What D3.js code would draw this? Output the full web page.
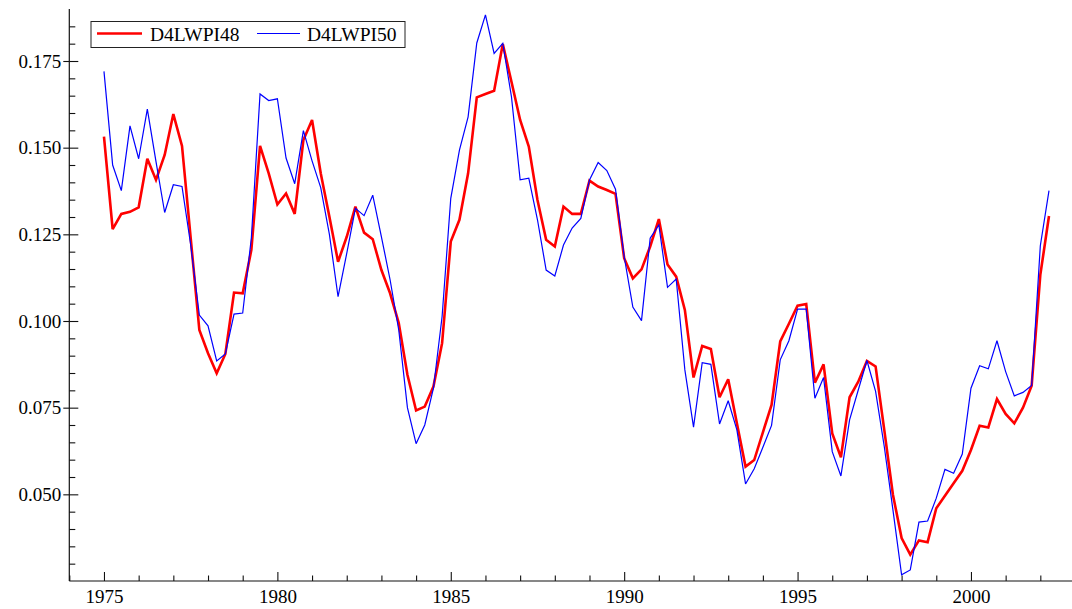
<!DOCTYPE html>
<html><head><meta charset="utf-8">
<script src="https://cdn.jsdelivr.net/npm/d3@7"></script>
<style>
body{margin:0;background:#fff}
svg{display:block}
</style>
</head><body>
<svg id="chart" width="1072" height="609"></svg>
<script>
// ---- data (quarterly, starting 1975 Q1) ----
const startYear = 1975;
const periodsPerYear = 4;
const seriesNames = ["D4LWPI48", "D4LWPI50"];
const d4lwpi48 = [
0.1532,0.1265,0.1309,0.1315,0.1328,0.1468,0.1407,0.1479,0.1597,0.1505,
0.1240,0.0974,0.0907,0.0849,0.0905,0.1082,0.1080,0.1205,0.1505,0.1426,
0.1336,0.1368,0.1309,0.1522,0.1580,0.1426,0.1301,0.1171,0.1243,0.1330,
0.1255,0.1236,0.1147,0.1080,0.0994,0.0845,0.0742,0.0753,0.0811,0.0936,
0.1229,0.1292,0.1426,0.1645,0.1655,0.1664,0.1799,0.1690,0.1580,0.1503,
0.1349,0.1234,0.1215,0.1330,0.1309,0.1309,0.1405,0.1388,0.1378,0.1367,
0.1181,0.1123,0.1149,0.1215,0.1294,0.1163,0.1128,0.1032,0.0837,0.0928,
0.0919,0.0780,0.0832,0.0705,0.0580,0.0599,0.0679,0.0758,0.0941,0.0992,
0.1044,0.1049,0.0822,0.0875,0.0676,0.0607,0.0780,0.0825,0.0885,0.0869,
0.0686,0.0499,0.0374,0.0326,0.0367,0.0362,0.0460,0.0496,0.0532,0.0568,
0.0628,0.0698,0.0693,0.0775,0.0732,0.0705,0.0750,0.0813,0.1133,0.1303
];
const d4lwpi50 = [
0.1720,0.1450,0.1376,0.1563,0.1468,0.1611,0.1460,0.1313,0.1393,0.1388,
0.1220,0.1017,0.0986,0.0885,0.0905,0.1020,0.1023,0.1240,0.1655,0.1636,
0.1641,0.1470,0.1396,0.1549,0.1462,0.1385,0.1250,0.1070,0.1195,0.1325,
0.1304,0.1363,0.1243,0.1119,0.0974,0.0750,0.0646,0.0700,0.0806,0.1013,
0.1354,0.1493,0.1589,0.1802,0.1883,0.1772,0.1801,0.1647,0.1407,0.1412,
0.1292,0.1147,0.1130,0.1219,0.1268,0.1296,0.1407,0.1457,0.1434,0.1380,
0.1186,0.1040,0.1001,0.1239,0.1277,0.1097,0.1121,0.0859,0.0694,0.0880,
0.0875,0.0703,0.0770,0.0686,0.0530,0.0574,0.0636,0.0699,0.0888,0.0943,
0.1034,0.1034,0.0777,0.0837,0.0623,0.0553,0.0715,0.0801,0.0886,0.0797,
0.0638,0.0455,0.0268,0.0282,0.0420,0.0423,0.0489,0.0572,0.0561,0.0616,
0.0806,0.0871,0.0862,0.0943,0.0854,0.0784,0.0794,0.0814,0.1217,0.1376
];
const xMajorTicks = [1975, 1980, 1985, 1990, 1995, 2000];
const xMinorTicks = [1974,1976,1977,1978,1979,1981,1982,1983,1984,1986,1987,1988,1989,
                     1991,1992,1993,1994,1996,1997,1998,1999,2001,2002];
const yMajorTicks = [0.050, 0.075, 0.100, 0.125, 0.150, 0.175];
const yMinorTicks = [0.030,0.035,0.040,0.045,0.055,0.060,0.065,0.070,0.080,0.085,0.090,0.095,
                     0.105,0.110,0.115,0.120,0.130,0.135,0.140,0.145,0.155,0.160,0.165,0.170,0.180,0.185];

// ---- layout ----
const FONT = '"Liberation Serif"';
const svg = d3.select("#chart");
const x = d3.scaleLinear().domain([1974, 2003]).range([69.3, 1075]);
const y = d3.scaleLinear().domain([0.025, 0.19]).range([581, 9]);
const axisColor = "#111";
const fontSize = 19;

const dates = d3.range(d4lwpi48.length).map(i => startYear + i / periodsPerYear);

// ---- axes ----
const gx = svg.append("g").attr("transform", `translate(0,${y.range()[0]})`);
gx.append("line").attr("x1", x(1974)).attr("x2", 1072).attr("y1", 0).attr("y2", 0)
  .attr("stroke", axisColor).attr("stroke-width", 1.2);
gx.call(g => {
  const major = d3.axisBottom(x).tickValues(xMajorTicks).tickFormat(d3.format("d"))
    .tickSizeInner(-9).tickSizeOuter(0).tickPadding(9);
  const minor = d3.axisBottom(x).tickValues(xMinorTicks).tickFormat("")
    .tickSizeInner(-5.5).tickSizeOuter(0);
  const a = g.append("g").call(major);
  const b = g.append("g").call(minor);
  [a, b].forEach(s => { s.attr("font-family", null).attr("font-size", null);
    s.select(".domain").remove(); s.selectAll("line").attr("stroke", axisColor).attr("stroke-width", 1.1); });
  a.selectAll("text").style("font-family", FONT).style("font-size", fontSize + "px").attr("fill", "#000");
});

const gy = svg.append("g").attr("transform", `translate(${x(1974)},0)`);
gy.append("line").attr("x1", 0).attr("x2", 0).attr("y1", y.range()[1]).attr("y2", y.range()[0])
  .attr("stroke", axisColor).attr("stroke-width", 1.2);
gy.call(g => {
  const majorOut = d3.axisLeft(y).tickValues(yMajorTicks).tickFormat(d3.format(".3f"))
    .tickSizeInner(6).tickSizeOuter(0).tickPadding(2);
  const majorIn = d3.axisLeft(y).tickValues(yMajorTicks).tickFormat("")
    .tickSizeInner(-9).tickSizeOuter(0);
  const minor = d3.axisLeft(y).tickValues(yMinorTicks).tickFormat("")
    .tickSizeInner(-6).tickSizeOuter(0);
  const a = g.append("g").call(majorOut);
  const b = g.append("g").call(majorIn);
  const c = g.append("g").call(minor);
  [a, b, c].forEach(s => { s.attr("font-family", null).attr("font-size", null);
    s.select(".domain").remove(); s.selectAll("line").attr("stroke", axisColor).attr("stroke-width", 1.1); });
  a.selectAll("text").style("font-family", FONT).style("font-size", fontSize + "px").attr("fill", "#000");
});

// ---- lines ----
const line = d3.line().x((d, i) => x(dates[i])).y(d => y(d));
const styles = [
  {data: d4lwpi48, color: "#ff0000", width: 2.6},
  {data: d4lwpi50, color: "#0000ff", width: 1.2}
];
styles.forEach(s => {
  svg.append("path").datum(s.data).attr("d", line)
    .attr("fill", "none").attr("stroke", s.color).attr("stroke-width", s.width)
    .attr("stroke-linejoin", "miter").attr("stroke-miterlimit", 3);
});

// ---- legend ----
const lg = svg.append("g");
lg.append("rect").attr("x", 91).attr("y", 21.5).attr("width", 314).attr("height", 26)
  .attr("fill", "#fff").attr("stroke", "#222").attr("stroke-width", 1);
const legendItems = [
  {name: seriesNames[0], color: "#ff0000", width: 2.6, x0: 97, x1: 142, tx: 150},
  {name: seriesNames[1], color: "#0000ff", width: 1.2, x0: 257, x1: 300, tx: 307}
];
legendItems.forEach(it => {
  lg.append("line").attr("x1", it.x0).attr("x2", it.x1).attr("y1", 33.5).attr("y2", 33.5)
    .attr("stroke", it.color).attr("stroke-width", it.width);
  lg.append("text").attr("x", it.tx).attr("y", 40.7)
    .style("font-family", FONT).style("font-size", "19.5px")
    .attr("fill", "#000").text(it.name);
});
</script>
</body></html>
